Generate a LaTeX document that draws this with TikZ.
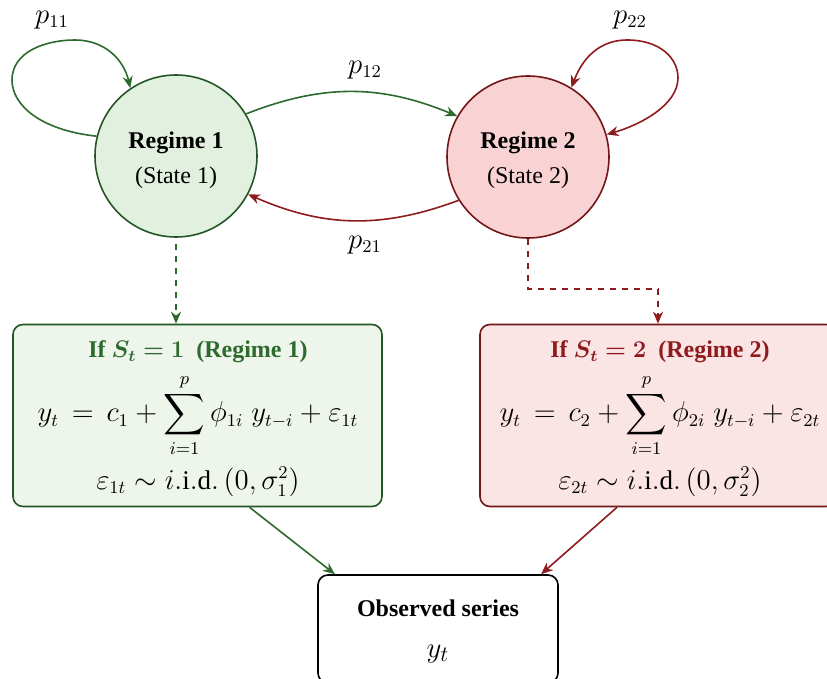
\documentclass[tikz,border=0pt]{standalone}
\usepackage{fontspec}
\setmainfont{Liberation Serif}
\usepackage{amsmath,bm}
\usetikzlibrary{arrows.meta}
\definecolor{grn}{HTML}{2D6A2D}
\definecolor{grnfill}{HTML}{E2F1DF}
\definecolor{grnbox}{HTML}{EEF6EC}
\definecolor{rd}{HTML}{8E1B1E}
\definecolor{rdfill}{HTML}{F9D3D4}
\definecolor{rdbox}{HTML}{FBE4E4}
\begin{document}
\begin{tikzpicture}[x=0.5pt,y=-0.5pt,
    state/.style={circle,draw,thick,minimum size=81pt,inner sep=0pt},
    eqbox/.style={rounded corners=5pt,draw,thick,minimum height=91pt},
    lbl/.style={inner sep=0pt,font=\fontsize{12}{14}\selectfont},
    mth/.style={inner sep=0pt,font=\fontsize{13.5}{15}\selectfont},
    arr/.style={thick,-{Stealth[length=6pt,width=5pt]}}]
  \clip (0,0) rectangle (827,679);
  \useasboundingbox (0,0) rectangle (827,679);
  \fill[white] (0,0) rectangle (827,679);
  \node[state,draw=grn!80!black,fill=grnfill] (r1) at (176,156) {};
  \node[state,draw=rd!80!black,fill=rdfill] (r2) at (528,157) {};
  \node[lbl] (r1t) at (176,143) {\bfseries Regime 1};
  \node[lbl] (r1s) at (176,178) {(State 1)};
  \node[lbl] (r2t) at (528,143) {\bfseries Regime 2};
  \node[lbl] (r2s) at (528,178) {(State 2)};
  \node[mth] (p11) at (52,20) {$p_{11}$};
  \node[mth] (p12) at (365,70) {$p_{12}$};
  \node[mth] (p21) at (365,245) {$p_{21}$};
  \node[mth] (p22) at (630,20) {$p_{22}$};
  \draw[arr,grn] (r1.166) .. controls (40,130) and (12,105) .. (12,80)
    .. controls (12,52) and (45,40) .. (75,40) .. controls (105,40) and (124,60) .. (r1.124);
  \draw[arr,grn] (r1.31) to[bend left=22] (r2.150);
  \draw[arr,rd] (r2.212) to[bend left=22] (r1.-28);
  \draw[thick,rd,{Stealth[length=6pt,width=5pt]}-{Stealth[length=6pt,width=5pt]}] (r2.58)
    .. controls (585,52) and (605,40) .. (627,40) .. controls (660,40) and (678,58) .. (678,78)
    .. controls (678,105) and (640,125) .. (r2.16);
  \node[eqbox,draw=grn!80!black,fill=grnbox,minimum width=184.5pt] (b1) at (197.5,415.5) {};
  \node[eqbox,draw=rd!80!black,fill=rdbox,minimum width=178pt] (b2) at (658,415.5) {};
  \node[lbl,grn] (b1h) at (198,352) {\bfseries If $\bm{S_t = 1}$\enspace(Regime 1)};
  \node[mth] (b1e) at (198,416) {$\displaystyle y_t \,=\, c_1 + \sum_{i=1}^{p} \phi_{1i}\; y_{t-i} + \varepsilon_{1t}$};
  \node[mth] (b1n) at (198,482) {$\varepsilon_{1t} \sim i.\mathrm{i.d.}\,(0,\sigma_1^2)$};
  \node[lbl,rd] (b2h) at (660,352) {\bfseries If $\bm{S_t = 2}$\enspace(Regime 2)};
  \node[mth] (b2e) at (660,416) {$\displaystyle y_t \,=\, c_2 + \sum_{i=1}^{p} \phi_{2i}\; y_{t-i} + \varepsilon_{2t}$};
  \node[mth] (b2n) at (660,482) {$\varepsilon_{2t} \sim i.\mathrm{i.d.}\,(0,\sigma_2^2)$};
  \node[rounded corners=5pt,draw,thick,fill=white,minimum width=120pt,minimum height=54pt] (obs) at (438,629) {};
  \node[lbl] (obst) at (438,608) {\bfseries Observed series};
  \node[inner sep=0pt,font=\fontsize{15}{17}\selectfont] (obsy) at (438,654) {$y_t$};
  \coordinate (d2) at (528,289);
  \coordinate (d3) at (658,289);
  \draw[arr,grn,dashed] (r1.south) ++(0,6) -- (b1.north -| r1.south);
  \draw[thick,rd,dashed] (r2.south) -- (d2) -- (d3);
  \draw[arr,rd,dashed] (d3) -- (b2.north);
  \draw[arr,grn] (b1.south) ++(52,0) -- (obs.152);
  \draw[arr,rd] (b2.south) ++(-41,0) -- (obs.28);
\end{tikzpicture}
\end{document}
